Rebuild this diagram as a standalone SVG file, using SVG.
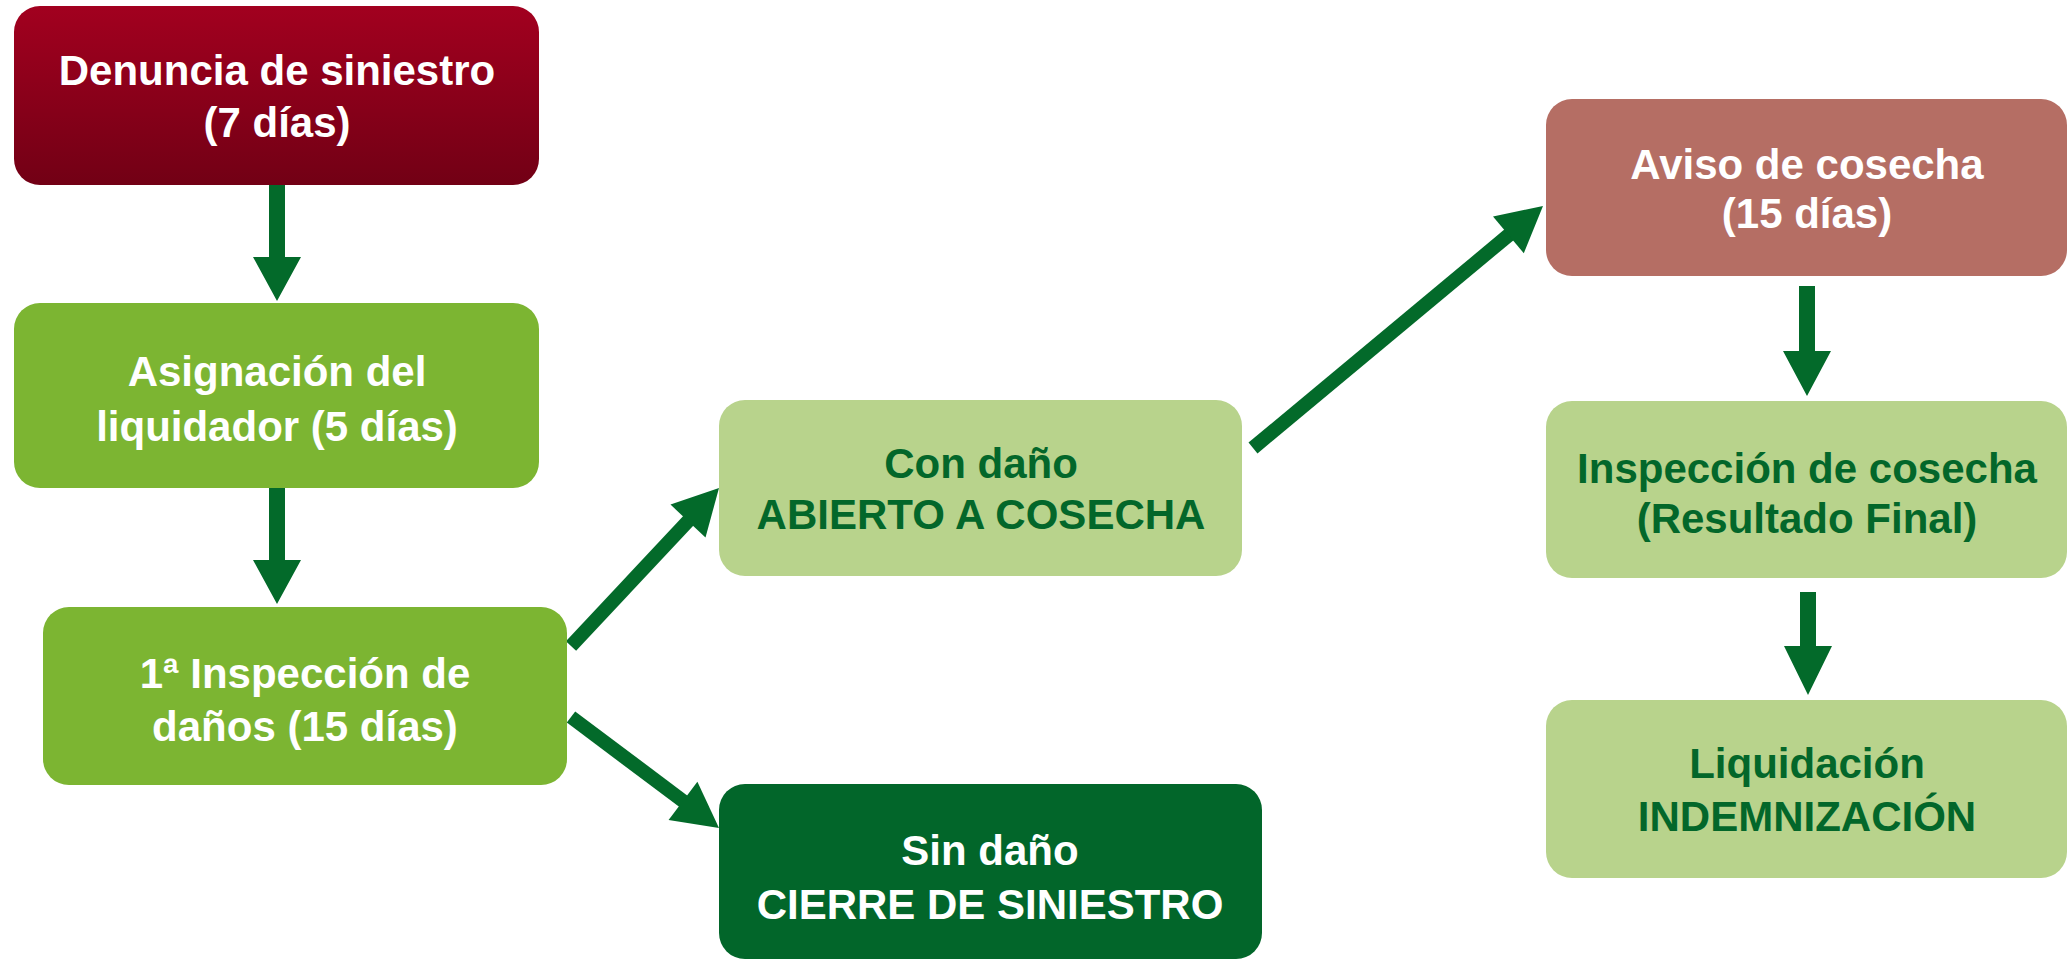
<svg xmlns="http://www.w3.org/2000/svg" width="2068" height="960" viewBox="0 0 2068 960">
<defs>
<linearGradient id="gRed" x1="0" y1="0" x2="0" y2="1">
<stop offset="0" stop-color="#A2001F"/>
<stop offset="1" stop-color="#720015"/>
</linearGradient>
<style>
.t{font-family:"Liberation Sans",Arial,sans-serif;font-weight:bold;font-size:42px;text-anchor:middle}
.w{fill:#FFFFFF}
.g{fill:#03672A}
.arr{fill:#036A2A}
</style>
</defs>
<rect width="2068" height="960" fill="#FFFFFF"/>
<g id="connectors" class="arr">
<polygon points="269,185 285,185 285,257 301,257 277,301 253,257 269,257"/>
<polygon points="269,483 285,483 285,560 301,560 277,604 253,560 269,560"/>
<polygon points="1799,286 1815,286 1815,351 1831,351 1807,396 1783,351 1799,351"/>
<polygon points="1800,592 1816,592 1816,646 1832,646 1808,695 1784,646 1800,646"/>
<line x1="571" y1="646" x2="690" y2="519" stroke="#036A2A" stroke-width="14"/>
<polygon points="719,488 670.5,504.6 705.5,537.4"/>
<line x1="571" y1="717" x2="687" y2="804" stroke="#036A2A" stroke-width="14"/>
<polygon points="719,828 668.6,820 697.4,781.8"/>
<line x1="1253" y1="448" x2="1510" y2="234" stroke="#036A2A" stroke-width="14"/>
<polygon points="1543,206 1493,216.4 1523.8,253.2"/>
</g>
<g id="n1">
<rect x="14" y="6" width="525" height="179" rx="26" fill="url(#gRed)"/>
<text class="t w" x="277" y="85">Denuncia de siniestro</text>
<text class="t w" x="277" y="137">(7 días)</text>
</g>
<g id="n2">
<rect x="14" y="303" width="525" height="185" rx="26" fill="#7CB532"/>
<text class="t w" x="277" y="386">Asignación del</text>
<text class="t w" x="277" y="441">liquidador (5 días)</text>
</g>
<g id="n3">
<rect x="43" y="607" width="524" height="178" rx="26" fill="#7CB532"/>
<text class="t w" x="305" y="688">1ª Inspección de</text>
<text class="t w" x="305" y="741">daños (15 días)</text>
</g>
<g id="n4">
<rect x="719" y="400" width="523" height="176" rx="26" fill="#B8D38C"/>
<text class="t g" x="981" y="478">Con daño</text>
<text class="t g" x="981" y="529">ABIERTO A COSECHA</text>
</g>
<g id="n5">
<rect x="719" y="784" width="543" height="175" rx="26" fill="#02662A"/>
<text class="t w" x="990" y="865">Sin daño</text>
<text class="t w" x="990" y="919">CIERRE DE SINIESTRO</text>
</g>
<g id="n6">
<rect x="1546" y="99" width="521" height="177" rx="26" fill="#B56E64"/>
<text class="t w" x="1807" y="179">Aviso de cosecha</text>
<text class="t w" x="1807" y="228">(15 días)</text>
</g>
<g id="n7">
<rect x="1546" y="401" width="521" height="177" rx="26" fill="#B8D38C"/>
<text class="t g" x="1807" y="483">Inspección de cosecha</text>
<text class="t g" x="1807" y="533">(Resultado Final)</text>
</g>
<g id="n8">
<rect x="1546" y="700" width="521" height="178" rx="26" fill="#B8D38C"/>
<text class="t g" x="1807" y="778">Liquidación</text>
<text class="t g" x="1807" y="831">INDEMNIZACIÓN</text>
</g>
</svg>
